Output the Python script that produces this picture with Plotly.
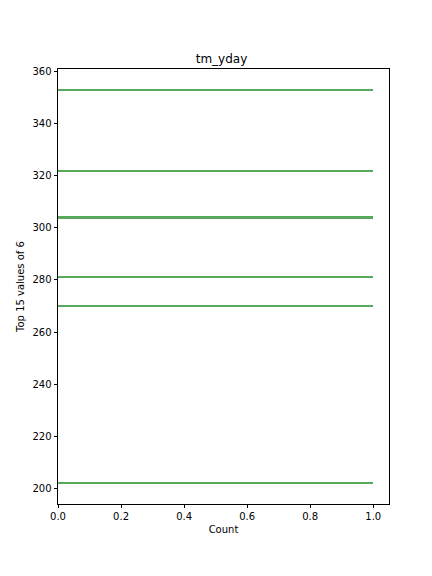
import plotly.graph_objects as go

values = [353, 322, 304, 281, 270, 202]
counts = [1, 1, 1, 1, 1, 1]
y_ticks = [200, 220, 240, 260, 280, 300, 320, 340, 360]
x_ticks = [0.0, 0.2, 0.4, 0.6, 0.8, 1.0]

# page has an 8px body margin; size the figure to fit within the window
W, H = 424, 568
fig = go.Figure()
fig.add_trace(go.Bar(
    x=counts, y=values, orientation="h", width=0.8,
    marker=dict(color="#5aa85e", line=dict(width=0)),
))

font = dict(family="DejaVu Sans", size=10, color="black")
fig.update_layout(
    width=W, height=H,
    margin=dict(l=46, r=43, t=61, b=72),
    paper_bgcolor="white", plot_bgcolor="white",
    showlegend=False,
    font=font,
    title=dict(text="tm_yday", x=213.5 / W, xanchor="center",
               y=1 - 51 / H, yanchor="middle",
               font=dict(family="DejaVu Sans", size=12, color="black")),
    bargap=0,
)
fig.update_xaxes(
    range=[0, 1.05], tickvals=x_ticks, ticktext=[f"{v:.1f}" for v in x_ticks],
    ticks="outside", ticklen=3.5, tickcolor="black", tickwidth=0.8,
    showline=True, linecolor="black", linewidth=0.8, mirror=True,
    showgrid=False, zeroline=False,
    title=dict(text="Count", font=font, standoff=4),
)
fig.update_yaxes(
    range=[194.0, 361.0], tickvals=y_ticks,
    ticks="outside", ticklen=3.5, tickcolor="black", tickwidth=0.8,
    showline=True, linecolor="black", linewidth=0.8, mirror=True,
    showgrid=False, zeroline=False,
    title=dict(text="Top 15 values of 6", font=font, standoff=6),
)
fig.write_html("out.html")
